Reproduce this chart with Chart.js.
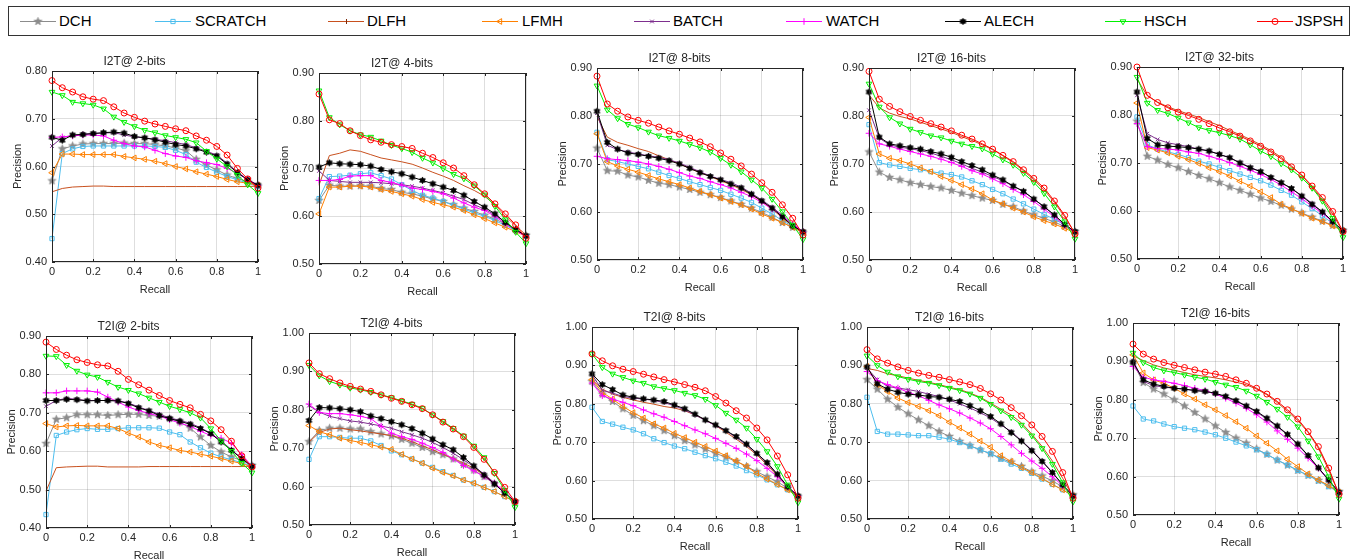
<!DOCTYPE html>
<html><head><meta charset="utf-8">
<script src="https://cdn.jsdelivr.net/npm/chart.js@4.4.1/dist/chart.umd.min.js"></script>
<style>
html,body{margin:0;padding:0;background:#fff;width:1354px;height:559px;overflow:hidden;position:relative;font-family:"Liberation Sans",Arial,sans-serif;}
canvas.panel{position:absolute;}
#legend{position:absolute;left:8px;top:6px;width:1342px;height:30px;border:1px solid #333;box-sizing:border-box;background:#fff;}
.lt{position:absolute;top:0;font-size:15px;color:#000;line-height:28px;white-space:nowrap;}
.lc{position:absolute;top:0;}
</style></head><body>
<div id="legend"></div>
<script>
// ---------- data ----------
const recall = [0,0.05,0.1,0.15,0.2,0.25,0.3,0.35,0.4,0.45,0.5,0.55,0.6,0.65,0.7,0.75,0.8,0.85,0.9,0.95,1];
const seriesNames = ['DCH','SCRATCH','DLFH','LFMH','BATCH','WATCH','ALECH','HSCH','JSPSH'];
const xTickValues = [0,0.2,0.4,0.6,0.8,1];
const xTickLabels = ['0','0.2','0.4','0.6','0.8','1'];
const yTicks_40_80 = [0.4,0.5,0.6,0.7,0.8];
const yTicks_50_90 = [0.5,0.6,0.7,0.8,0.9];
const yTicks_40_90 = [0.4,0.5,0.6,0.7,0.8,0.9];
const yTicks_50_100 = [0.5,0.6,0.7,0.8,0.9,1.0];
const panelTitles = ['I2T@ 2-bits','I2T@ 4-bits','I2T@ 8-bits','I2T@ 16-bits','I2T@ 32-bits','T2I@ 2-bits','T2I@ 4-bits','T2I@ 8-bits','T2I@ 16-bits','T2I@ 16-bits'];

// I2T 2-bits
const i2t2_DCH = [0.570,0.637,0.643,0.647,0.648,0.648,0.648,0.649,0.648,0.648,0.646,0.643,0.639,0.633,0.615,0.603,0.593,0.582,0.575,0.568,0.559];
const i2t2_SCRATCH = [0.449,0.627,0.637,0.642,0.643,0.643,0.643,0.643,0.643,0.643,0.642,0.640,0.634,0.625,0.609,0.598,0.588,0.579,0.572,0.565,0.558];
const i2t2_DLFH = [0.547,0.554,0.557,0.558,0.559,0.559,0.558,0.558,0.558,0.558,0.558,0.558,0.558,0.558,0.558,0.558,0.558,0.558,0.558,0.558,0.559];
const i2t2_LFMH = [0.587,0.626,0.626,0.625,0.625,0.625,0.625,0.621,0.618,0.615,0.611,0.606,0.600,0.595,0.589,0.584,0.579,0.573,0.568,0.565,0.561];
const i2t2_BATCH = [0.643,0.661,0.665,0.668,0.669,0.670,0.671,0.666,0.662,0.660,0.657,0.654,0.650,0.646,0.639,0.632,0.624,0.607,0.589,0.572,0.559];
const i2t2_WATCH = [0.661,0.662,0.664,0.666,0.666,0.664,0.655,0.648,0.643,0.641,0.634,0.627,0.622,0.619,0.612,0.608,0.604,0.596,0.586,0.573,0.561];
const i2t2_ALECH = [0.661,0.655,0.666,0.667,0.669,0.671,0.672,0.670,0.663,0.660,0.656,0.651,0.646,0.643,0.637,0.630,0.622,0.605,0.587,0.572,0.561];
const i2t2_HSCH = [0.756,0.749,0.735,0.732,0.729,0.721,0.704,0.693,0.684,0.676,0.671,0.665,0.661,0.657,0.650,0.632,0.616,0.600,0.582,0.562,0.544];
const i2t2_JSPSH = [0.780,0.765,0.756,0.746,0.741,0.738,0.725,0.712,0.703,0.695,0.689,0.684,0.679,0.675,0.664,0.655,0.642,0.624,0.596,0.574,0.555];

// I2T 4-bits
const i2t4_DCH = [0.633,0.665,0.663,0.663,0.664,0.663,0.658,0.656,0.650,0.647,0.642,0.636,0.631,0.624,0.617,0.610,0.602,0.594,0.584,0.572,0.560];
const i2t4_SCRATCH = [0.637,0.683,0.684,0.686,0.689,0.691,0.685,0.678,0.666,0.654,0.644,0.638,0.631,0.623,0.615,0.607,0.600,0.591,0.581,0.570,0.559];
const i2t4_DLFH = [0.665,0.727,0.732,0.739,0.736,0.729,0.722,0.718,0.714,0.709,0.701,0.692,0.684,0.675,0.664,0.654,0.642,0.624,0.600,0.580,0.561];
const i2t4_LFMH = [0.605,0.661,0.661,0.663,0.663,0.661,0.656,0.652,0.647,0.642,0.635,0.629,0.624,0.619,0.612,0.603,0.595,0.586,0.577,0.568,0.558];
const i2t4_BATCH = [0.695,0.675,0.673,0.671,0.671,0.671,0.670,0.668,0.666,0.663,0.659,0.654,0.649,0.642,0.635,0.624,0.615,0.603,0.587,0.572,0.559];
const i2t4_WATCH = [0.675,0.675,0.677,0.684,0.685,0.685,0.675,0.671,0.665,0.659,0.656,0.652,0.647,0.638,0.628,0.619,0.612,0.600,0.584,0.570,0.558];
const i2t4_ALECH = [0.703,0.712,0.710,0.709,0.708,0.705,0.698,0.693,0.689,0.682,0.675,0.668,0.661,0.654,0.644,0.631,0.619,0.605,0.587,0.572,0.559];
const i2t4_HSCH = [0.863,0.807,0.792,0.779,0.771,0.766,0.758,0.749,0.742,0.734,0.722,0.712,0.700,0.688,0.679,0.664,0.645,0.621,0.593,0.567,0.543];
const i2t4_JSPSH = [0.856,0.802,0.794,0.779,0.769,0.760,0.755,0.750,0.746,0.742,0.732,0.723,0.712,0.701,0.685,0.666,0.647,0.626,0.605,0.582,0.554];

// I2T 8-bits
const i2t8_DCH = [0.733,0.686,0.685,0.677,0.673,0.666,0.660,0.657,0.652,0.647,0.641,0.636,0.630,0.623,0.616,0.608,0.599,0.589,0.578,0.568,0.557];
const i2t8_SCRATCH = [0.766,0.709,0.705,0.700,0.695,0.690,0.683,0.676,0.670,0.663,0.657,0.651,0.645,0.637,0.629,0.620,0.608,0.596,0.582,0.570,0.557];
const i2t8_DLFH = [0.799,0.756,0.745,0.739,0.732,0.726,0.717,0.709,0.700,0.691,0.682,0.674,0.665,0.657,0.647,0.636,0.622,0.606,0.588,0.570,0.559];
const i2t8_LFMH = [0.763,0.705,0.696,0.689,0.683,0.676,0.669,0.663,0.657,0.650,0.643,0.636,0.629,0.622,0.615,0.606,0.596,0.587,0.578,0.568,0.557];
const i2t8_BATCH = [0.806,0.739,0.730,0.725,0.721,0.717,0.714,0.709,0.702,0.693,0.684,0.675,0.668,0.661,0.652,0.639,0.625,0.610,0.593,0.573,0.559];
const i2t8_WATCH = [0.716,0.711,0.709,0.707,0.704,0.700,0.695,0.689,0.682,0.675,0.670,0.663,0.657,0.650,0.641,0.632,0.620,0.606,0.592,0.575,0.559];
const i2t8_ALECH = [0.810,0.745,0.731,0.723,0.720,0.716,0.712,0.707,0.700,0.691,0.682,0.674,0.667,0.658,0.650,0.637,0.623,0.608,0.590,0.571,0.559];
const i2t8_HSCH = [0.863,0.813,0.795,0.783,0.776,0.767,0.759,0.754,0.748,0.741,0.734,0.725,0.712,0.698,0.684,0.667,0.650,0.627,0.601,0.573,0.543];
const i2t8_JSPSH = [0.883,0.825,0.810,0.798,0.791,0.785,0.777,0.769,0.762,0.754,0.746,0.736,0.723,0.710,0.696,0.679,0.661,0.641,0.615,0.587,0.552];

// I2T 16-bits
const i2t16_DCH = [0.725,0.683,0.672,0.667,0.661,0.657,0.653,0.650,0.645,0.639,0.634,0.629,0.624,0.616,0.611,0.602,0.594,0.587,0.579,0.570,0.559];
const i2t16_SCRATCH = [0.782,0.703,0.698,0.695,0.691,0.688,0.684,0.681,0.678,0.673,0.665,0.657,0.647,0.638,0.627,0.617,0.606,0.595,0.585,0.573,0.559];
const i2t16_DLFH = [0.844,0.817,0.806,0.799,0.794,0.787,0.780,0.773,0.766,0.757,0.749,0.740,0.730,0.717,0.703,0.686,0.667,0.646,0.620,0.590,0.556];
const i2t16_LFMH = [0.797,0.721,0.712,0.707,0.700,0.692,0.684,0.674,0.666,0.657,0.648,0.638,0.625,0.617,0.608,0.600,0.590,0.582,0.575,0.566,0.557];
const i2t16_BATCH = [0.812,0.754,0.740,0.735,0.732,0.728,0.723,0.716,0.709,0.700,0.691,0.683,0.674,0.665,0.654,0.643,0.627,0.611,0.593,0.574,0.559];
const i2t16_WATCH = [0.764,0.742,0.737,0.731,0.726,0.721,0.716,0.710,0.703,0.695,0.686,0.679,0.669,0.659,0.647,0.636,0.622,0.606,0.590,0.572,0.558];
const i2t16_ALECH = [0.850,0.756,0.742,0.738,0.734,0.731,0.726,0.721,0.714,0.705,0.697,0.688,0.677,0.667,0.654,0.643,0.627,0.611,0.594,0.574,0.559];
const i2t16_HSCH = [0.867,0.819,0.797,0.784,0.773,0.766,0.759,0.755,0.748,0.742,0.737,0.732,0.721,0.709,0.698,0.681,0.662,0.639,0.611,0.580,0.544];
const i2t16_JSPSH = [0.893,0.835,0.820,0.809,0.799,0.791,0.784,0.777,0.769,0.760,0.752,0.742,0.731,0.718,0.705,0.688,0.670,0.650,0.623,0.593,0.554];

// I2T 32-bits
const i2t32_DCH = [0.787,0.714,0.706,0.697,0.690,0.682,0.674,0.667,0.659,0.650,0.643,0.635,0.627,0.620,0.612,0.604,0.596,0.587,0.579,0.570,0.559];
const i2t32_SCRATCH = [0.796,0.738,0.729,0.723,0.718,0.711,0.704,0.698,0.691,0.684,0.677,0.670,0.663,0.654,0.643,0.633,0.619,0.605,0.590,0.574,0.557];
const i2t32_DLFH = [0.875,0.840,0.827,0.817,0.809,0.802,0.795,0.786,0.778,0.768,0.759,0.749,0.738,0.726,0.712,0.694,0.674,0.650,0.624,0.594,0.556];
const i2t32_LFMH = [0.825,0.732,0.727,0.721,0.714,0.707,0.699,0.690,0.682,0.673,0.662,0.652,0.640,0.628,0.614,0.605,0.595,0.585,0.578,0.569,0.559];
const i2t32_BATCH = [0.841,0.761,0.749,0.742,0.738,0.734,0.729,0.725,0.718,0.711,0.701,0.691,0.682,0.670,0.659,0.647,0.632,0.616,0.598,0.578,0.559];
const i2t32_WATCH = [0.782,0.734,0.730,0.729,0.727,0.723,0.720,0.714,0.708,0.701,0.693,0.685,0.676,0.666,0.654,0.640,0.626,0.610,0.595,0.578,0.559];
const i2t32_ALECH = [0.848,0.751,0.738,0.735,0.734,0.732,0.729,0.725,0.718,0.711,0.700,0.690,0.682,0.670,0.659,0.647,0.631,0.614,0.598,0.578,0.559];
const i2t32_HSCH = [0.879,0.825,0.810,0.803,0.794,0.784,0.774,0.768,0.763,0.757,0.750,0.738,0.725,0.714,0.699,0.686,0.669,0.648,0.621,0.585,0.545];
const i2t32_JSPSH = [0.900,0.841,0.826,0.815,0.806,0.799,0.791,0.782,0.773,0.765,0.756,0.746,0.735,0.723,0.709,0.692,0.675,0.652,0.628,0.599,0.557];

// T2I 2-bits
const t2i2_DCH = [0.620,0.683,0.687,0.695,0.695,0.695,0.693,0.695,0.696,0.696,0.693,0.691,0.685,0.676,0.660,0.637,0.615,0.598,0.585,0.576,0.563];
const t2i2_SCRATCH = [0.435,0.641,0.650,0.656,0.659,0.657,0.657,0.659,0.661,0.661,0.661,0.660,0.650,0.643,0.624,0.609,0.595,0.585,0.578,0.570,0.561];
const t2i2_DLFH = [0.496,0.557,0.559,0.560,0.561,0.561,0.559,0.559,0.559,0.559,0.560,0.560,0.560,0.560,0.560,0.560,0.560,0.560,0.560,0.560,0.561];
const t2i2_LFMH = [0.672,0.663,0.666,0.667,0.666,0.666,0.666,0.659,0.647,0.637,0.624,0.615,0.609,0.602,0.598,0.592,0.587,0.581,0.574,0.568,0.559];
const t2i2_BATCH = [0.717,0.732,0.738,0.735,0.732,0.732,0.732,0.731,0.726,0.715,0.706,0.696,0.687,0.680,0.673,0.661,0.647,0.627,0.604,0.581,0.561];
const t2i2_WATCH = [0.752,0.752,0.757,0.757,0.757,0.754,0.741,0.728,0.715,0.706,0.698,0.692,0.682,0.673,0.665,0.652,0.641,0.634,0.621,0.591,0.561];
const t2i2_ALECH = [0.732,0.732,0.735,0.734,0.731,0.732,0.732,0.731,0.724,0.713,0.705,0.693,0.685,0.678,0.670,0.659,0.646,0.624,0.602,0.581,0.561];
const t2i2_HSCH = [0.848,0.847,0.824,0.809,0.799,0.793,0.780,0.767,0.759,0.750,0.739,0.728,0.717,0.709,0.700,0.687,0.659,0.627,0.600,0.569,0.544];
const t2i2_JSPSH = [0.884,0.865,0.850,0.838,0.831,0.825,0.822,0.808,0.787,0.773,0.759,0.745,0.732,0.722,0.713,0.696,0.679,0.656,0.626,0.588,0.559];

// T2I 4-bits
const t2i4_DCH = [0.717,0.746,0.752,0.752,0.750,0.750,0.743,0.737,0.732,0.723,0.713,0.702,0.691,0.683,0.672,0.658,0.643,0.626,0.607,0.584,0.561];
const t2i4_SCRATCH = [0.671,0.730,0.730,0.728,0.726,0.726,0.719,0.707,0.693,0.683,0.672,0.661,0.650,0.639,0.629,0.617,0.609,0.598,0.587,0.574,0.561];
const t2i4_DLFH = [0.716,0.741,0.750,0.752,0.748,0.745,0.741,0.737,0.733,0.726,0.717,0.706,0.696,0.684,0.674,0.661,0.648,0.630,0.609,0.585,0.561];
const t2i4_LFMH = [0.759,0.743,0.735,0.726,0.720,0.715,0.709,0.703,0.697,0.684,0.672,0.661,0.648,0.637,0.628,0.617,0.609,0.598,0.587,0.574,0.561];
const t2i4_BATCH = [0.811,0.794,0.783,0.777,0.771,0.768,0.763,0.758,0.752,0.743,0.735,0.726,0.715,0.702,0.687,0.670,0.652,0.633,0.610,0.585,0.561];
const t2i4_WATCH = [0.815,0.793,0.790,0.790,0.787,0.783,0.777,0.757,0.739,0.730,0.723,0.713,0.702,0.689,0.672,0.655,0.641,0.626,0.609,0.587,0.561];
const t2i4_ALECH = [0.772,0.806,0.805,0.803,0.800,0.795,0.784,0.777,0.769,0.761,0.751,0.739,0.724,0.709,0.696,0.676,0.654,0.630,0.607,0.583,0.561];
const t2i4_HSCH = [0.916,0.889,0.874,0.865,0.857,0.852,0.846,0.839,0.832,0.823,0.815,0.804,0.787,0.770,0.752,0.732,0.706,0.676,0.635,0.591,0.546];
const t2i4_JSPSH = [0.922,0.894,0.881,0.870,0.861,0.854,0.848,0.839,0.830,0.822,0.813,0.803,0.787,0.768,0.750,0.730,0.702,0.671,0.637,0.598,0.561];

// T2I 8-bits
const t2i8_DCH = [0.858,0.825,0.806,0.787,0.770,0.756,0.743,0.730,0.717,0.704,0.693,0.682,0.671,0.661,0.650,0.637,0.623,0.610,0.597,0.580,0.558];
const t2i8_SCRATCH = [0.791,0.754,0.747,0.739,0.732,0.722,0.709,0.699,0.690,0.683,0.674,0.665,0.657,0.648,0.638,0.626,0.615,0.602,0.589,0.576,0.558];
const t2i8_DLFH = [0.863,0.838,0.825,0.817,0.810,0.804,0.799,0.793,0.789,0.782,0.771,0.758,0.743,0.726,0.708,0.689,0.667,0.641,0.612,0.582,0.558];
const t2i8_LFMH = [0.863,0.830,0.812,0.793,0.777,0.763,0.748,0.737,0.723,0.712,0.700,0.689,0.677,0.665,0.651,0.637,0.619,0.604,0.590,0.576,0.558];
const t2i8_BATCH = [0.876,0.835,0.828,0.819,0.815,0.812,0.809,0.803,0.795,0.784,0.771,0.757,0.743,0.730,0.712,0.693,0.670,0.645,0.615,0.584,0.560];
const t2i8_WATCH = [0.854,0.821,0.812,0.804,0.795,0.784,0.774,0.765,0.754,0.743,0.732,0.722,0.710,0.697,0.684,0.669,0.652,0.632,0.610,0.584,0.560];
const t2i8_ALECH = [0.878,0.850,0.837,0.823,0.817,0.813,0.810,0.806,0.797,0.787,0.773,0.758,0.745,0.730,0.715,0.695,0.671,0.647,0.617,0.584,0.560];
const t2i8_HSCH = [0.930,0.895,0.878,0.869,0.860,0.854,0.845,0.840,0.835,0.828,0.822,0.812,0.796,0.776,0.758,0.737,0.708,0.676,0.637,0.589,0.543];
const t2i8_JSPSH = [0.930,0.912,0.899,0.890,0.884,0.877,0.870,0.863,0.857,0.850,0.843,0.834,0.819,0.802,0.782,0.763,0.737,0.706,0.664,0.615,0.554];

// T2I 16-bits (left)
const t2i16a_DCH = [0.863,0.838,0.812,0.791,0.774,0.758,0.743,0.728,0.715,0.702,0.691,0.680,0.670,0.658,0.648,0.637,0.623,0.612,0.599,0.584,0.563];
const t2i16a_SCRATCH = [0.817,0.728,0.721,0.721,0.719,0.717,0.717,0.713,0.708,0.699,0.690,0.680,0.670,0.656,0.643,0.632,0.619,0.604,0.590,0.576,0.560];
const t2i16a_DLFH = [0.892,0.887,0.878,0.873,0.867,0.861,0.856,0.850,0.843,0.837,0.828,0.817,0.802,0.786,0.771,0.750,0.721,0.689,0.651,0.606,0.557];
const t2i16a_LFMH = [0.897,0.850,0.832,0.815,0.803,0.793,0.782,0.769,0.752,0.737,0.721,0.703,0.687,0.665,0.650,0.634,0.621,0.606,0.590,0.576,0.560];
const t2i16a_BATCH = [0.893,0.863,0.845,0.841,0.837,0.832,0.825,0.819,0.810,0.800,0.789,0.777,0.763,0.745,0.728,0.704,0.680,0.651,0.621,0.589,0.560];
const t2i16a_WATCH = [0.884,0.860,0.850,0.841,0.830,0.821,0.809,0.797,0.787,0.776,0.763,0.750,0.735,0.715,0.693,0.671,0.651,0.632,0.610,0.587,0.560];
const t2i16a_ALECH = [0.896,0.852,0.838,0.830,0.825,0.823,0.819,0.817,0.812,0.806,0.795,0.782,0.767,0.748,0.725,0.703,0.678,0.650,0.621,0.589,0.560];
const t2i16a_HSCH = [0.925,0.900,0.883,0.871,0.864,0.858,0.854,0.848,0.841,0.835,0.826,0.815,0.799,0.782,0.765,0.745,0.717,0.684,0.643,0.595,0.545];
const t2i16a_JSPSH = [0.941,0.917,0.906,0.896,0.887,0.880,0.874,0.869,0.863,0.857,0.850,0.840,0.826,0.810,0.790,0.769,0.745,0.715,0.676,0.621,0.554];

// T2I 16-bits (right)
const t2i16b_DCH = [0.896,0.845,0.828,0.815,0.800,0.784,0.767,0.750,0.732,0.715,0.700,0.687,0.672,0.658,0.643,0.630,0.616,0.603,0.590,0.576,0.561];
const t2i16b_SCRATCH = [0.784,0.750,0.745,0.737,0.730,0.726,0.722,0.716,0.709,0.700,0.690,0.680,0.670,0.658,0.643,0.630,0.616,0.603,0.589,0.574,0.559];
const t2i16b_DLFH = [0.915,0.902,0.891,0.883,0.877,0.871,0.865,0.861,0.857,0.852,0.846,0.839,0.828,0.813,0.793,0.770,0.746,0.715,0.674,0.617,0.554];
const t2i16b_LFMH = [0.917,0.870,0.852,0.843,0.830,0.815,0.802,0.787,0.774,0.759,0.743,0.726,0.706,0.687,0.667,0.645,0.626,0.607,0.591,0.577,0.559];
const t2i16b_BATCH = [0.902,0.848,0.837,0.833,0.830,0.828,0.824,0.822,0.816,0.807,0.796,0.783,0.768,0.750,0.730,0.709,0.683,0.654,0.622,0.590,0.559];
const t2i16b_WATCH = [0.887,0.859,0.852,0.848,0.843,0.837,0.830,0.824,0.815,0.804,0.791,0.778,0.761,0.742,0.719,0.697,0.674,0.648,0.622,0.591,0.559];
const t2i16b_ALECH = [0.898,0.852,0.841,0.835,0.830,0.828,0.824,0.822,0.817,0.809,0.798,0.784,0.770,0.752,0.732,0.710,0.685,0.655,0.623,0.591,0.559];
const t2i16b_HSCH = [0.922,0.897,0.884,0.876,0.871,0.865,0.859,0.854,0.846,0.839,0.833,0.823,0.810,0.794,0.776,0.755,0.730,0.693,0.652,0.600,0.542];
const t2i16b_JSPSH = [0.945,0.919,0.906,0.897,0.890,0.884,0.878,0.872,0.867,0.861,0.852,0.843,0.830,0.815,0.796,0.774,0.750,0.717,0.678,0.622,0.554];

// ---------- styles & layout ----------
const FONT = "'Liberation Sans', Arial, Helvetica, sans-serif";
const TXT = '#262626';
const seriesColors = ['#8c8c8c','#4DBEEE','#C8501E','#FF8000','#7E2F8E','#FF00FF','#000000','#00F000','#FF0000'];

function starCanvas(n, rOut, rIn, color, size) {
  const c = document.createElement('canvas');
  c.width = size; c.height = size;
  const g = c.getContext('2d');
  g.translate(size / 2, size / 2);
  g.beginPath();
  for (let i = 0; i < 2 * n; i++) {
    const r = i % 2 === 0 ? rOut : rIn;
    const a = -Math.PI / 2 + i * Math.PI / n;
    const px = r * Math.cos(a), py = r * Math.sin(a);
    if (i === 0) g.moveTo(px, py); else g.lineTo(px, py);
  }
  g.closePath();
  g.fillStyle = color; g.fill();
  g.lineWidth = 0.8; g.strokeStyle = color; g.stroke();
  return c;
}
const pentagram = starCanvas(5, 4.1, 1.7, '#8c8c8c', 11);
const hexagram = starCanvas(6, 3.3, 2.0, '#000000', 9);

const seriesMarkers = [
  {ps: pentagram, rot: 0, r: 4},
  {ps: 'rect', rot: 0, r: 3},
  {ps: 'circle', rot: 0, r: 0},
  {ps: 'triangle', rot: 270, r: 3.3},
  {ps: 'crossRot', rot: 0, r: 2.6},
  {ps: 'cross', rot: 0, r: 3.3},
  {ps: hexagram, rot: 0, r: 4},
  {ps: 'triangle', rot: 180, r: 3.3},
  {ps: 'circle', rot: 0, r: 3}
];

const panelRects = [
  [52,71,258,262],[319,73,526,264],[597,68,803,260],[869,68,1075,260],[1137,67,1343,259],
  [46,336,252,528],[309,333,515,525],[592,327,798,519],[867,327,1073,519],[1133,323,1339,515]
];
const panelY = [yTicks_40_80, yTicks_50_90, yTicks_50_90, yTicks_50_90, yTicks_50_90,
                yTicks_40_90, yTicks_50_100, yTicks_50_100, yTicks_50_100, yTicks_50_100];
const panelSeries = [
  [i2t2_DCH,i2t2_SCRATCH,i2t2_DLFH,i2t2_LFMH,i2t2_BATCH,i2t2_WATCH,i2t2_ALECH,i2t2_HSCH,i2t2_JSPSH],
  [i2t4_DCH,i2t4_SCRATCH,i2t4_DLFH,i2t4_LFMH,i2t4_BATCH,i2t4_WATCH,i2t4_ALECH,i2t4_HSCH,i2t4_JSPSH],
  [i2t8_DCH,i2t8_SCRATCH,i2t8_DLFH,i2t8_LFMH,i2t8_BATCH,i2t8_WATCH,i2t8_ALECH,i2t8_HSCH,i2t8_JSPSH],
  [i2t16_DCH,i2t16_SCRATCH,i2t16_DLFH,i2t16_LFMH,i2t16_BATCH,i2t16_WATCH,i2t16_ALECH,i2t16_HSCH,i2t16_JSPSH],
  [i2t32_DCH,i2t32_SCRATCH,i2t32_DLFH,i2t32_LFMH,i2t32_BATCH,i2t32_WATCH,i2t32_ALECH,i2t32_HSCH,i2t32_JSPSH],
  [t2i2_DCH,t2i2_SCRATCH,t2i2_DLFH,t2i2_LFMH,t2i2_BATCH,t2i2_WATCH,t2i2_ALECH,t2i2_HSCH,t2i2_JSPSH],
  [t2i4_DCH,t2i4_SCRATCH,t2i4_DLFH,t2i4_LFMH,t2i4_BATCH,t2i4_WATCH,t2i4_ALECH,t2i4_HSCH,t2i4_JSPSH],
  [t2i8_DCH,t2i8_SCRATCH,t2i8_DLFH,t2i8_LFMH,t2i8_BATCH,t2i8_WATCH,t2i8_ALECH,t2i8_HSCH,t2i8_JSPSH],
  [t2i16a_DCH,t2i16a_SCRATCH,t2i16a_DLFH,t2i16a_LFMH,t2i16a_BATCH,t2i16a_WATCH,t2i16a_ALECH,t2i16a_HSCH,t2i16a_JSPSH],
  [t2i16b_DCH,t2i16b_SCRATCH,t2i16b_DLFH,t2i16b_LFMH,t2i16b_BATCH,t2i16b_WATCH,t2i16b_ALECH,t2i16b_HSCH,t2i16b_JSPSH]
];

const Y_W = 41, X_H = 34, TITLE_H = 16, PAD_R = 12;

const boxPlugin = {
  id: 'matlabBox',
  afterDraw(chart) {
    const {ctx, chartArea: a, scales} = chart;
    ctx.save();
    ctx.strokeStyle = TXT; ctx.lineWidth = 1;
    ctx.beginPath();
    scales.x.ticks.forEach(t => {
      const px = Math.round(scales.x.getPixelForValue(t.value)) + 0.5;
      ctx.moveTo(px, a.bottom); ctx.lineTo(px, a.bottom - 3);
      ctx.moveTo(px, a.top); ctx.lineTo(px, a.top + 3);
    });
    scales.y.ticks.forEach(t => {
      const py = Math.round(scales.y.getPixelForValue(t.value)) + 0.5;
      ctx.moveTo(a.left, py); ctx.lineTo(a.left + 3, py);
      ctx.moveTo(a.right, py); ctx.lineTo(a.right - 3, py);
    });
    ctx.stroke();
    ctx.strokeRect(Math.round(a.left) + 0.5, Math.round(a.top) + 0.5, Math.round(a.right - a.left) - 1, Math.round(a.bottom - a.top) - 1);
    ctx.restore();
  }
};

panelRects.forEach((rect, p) => {
  const [L, T, R, B] = rect;
  const cv = document.createElement('canvas');
  cv.className = 'panel';
  const w = Y_W + (R - L) + PAD_R, h = TITLE_H + (B - T) + X_H;
  cv.width = w; cv.height = h;
  cv.style.left = (L - Y_W) + 'px';
  cv.style.top = (T - TITLE_H) + 'px';
  cv.style.width = w + 'px'; cv.style.height = h + 'px';
  document.body.appendChild(cv);
  const yt = panelY[p];
  const datasets = seriesNames.map((name, k) => ({
    label: name,
    data: recall.map((r, i) => ({x: r, y: panelSeries[p][k][i]})),
    borderColor: seriesColors[k],
    backgroundColor: 'rgba(0,0,0,0)',
    borderWidth: 1,
    pointStyle: seriesMarkers[k].ps,
    pointRotation: seriesMarkers[k].rot,
    pointRadius: seriesMarkers[k].r,
    pointBorderWidth: 1,
    pointBorderColor: seriesColors[k],
    pointBackgroundColor: 'rgba(0,0,0,0)',
    tension: 0, fill: false, clip: false,
    order: seriesNames.length - 1 - k
  }));
  new Chart(cv, {
    type: 'line',
    data: {datasets},
    plugins: [boxPlugin],
    options: {
      responsive: false, animation: false, events: [], devicePixelRatio: 1,
      layout: {padding: {left: 0, top: 0, right: PAD_R, bottom: 0}},
      plugins: {
        legend: {display: false}, tooltip: {enabled: false},
        title: {display: true, text: panelTitles[p], color: TXT,
          font: {family: FONT, size: 12, weight: 'normal', lineHeight: '14px'},
          padding: {top: 0, bottom: 2}}
      },
      scales: {
        x: {
          type: 'linear', min: 0, max: 1,
          afterBuildTicks: s => { s.ticks = xTickValues.map(v => ({value: v})); },
          afterFit: s => { s.height = X_H; },
          ticks: {callback: (v, i) => xTickLabels[i], color: TXT, font: {family: FONT, size: 11}, padding: 3, maxRotation: 0, autoSkip: false},
          grid: {color: 'rgba(0,0,0,0.13)', drawTicks: false, lineWidth: 1},
          border: {display: false},
          title: {display: true, text: 'Recall', color: TXT, font: {family: FONT, size: 11, lineHeight: '13px'}, padding: 0}
        },
        y: {
          type: 'linear', min: yt[0], max: yt[yt.length - 1],
          afterBuildTicks: s => { s.ticks = yt.map(v => ({value: v})); },
          afterFit: s => { s.width = Y_W; },
          ticks: {callback: (v, i) => yt[i].toFixed(2), color: TXT, font: {family: FONT, size: 11}, padding: 5, autoSkip: false},
          grid: {color: 'rgba(0,0,0,0.13)', drawTicks: false, lineWidth: 1},
          border: {display: false},
          title: {display: true, text: 'Precision', color: TXT, font: {family: FONT, size: 11, lineHeight: '13px'}, padding: 0}
        }
      }
    }
  });
});

// ---------- legend ----------
const legendLineX = [20,155,328,482,634,786,945,1105,1257];
const legendTextX = [59,195,367,522,673,826,984,1144,1295];
const legendEl = document.getElementById('legend');
seriesNames.forEach((name, k) => {
  const c = document.createElement('canvas');
  c.className = 'lc';
  c.width = 36; c.height = 28;
  c.style.left = (legendLineX[k] - 9) + 'px';
  legendEl.appendChild(c);
  const g = c.getContext('2d');
  g.strokeStyle = seriesColors[k]; g.lineWidth = 1;
  g.beginPath(); g.moveTo(0, 14.5); g.lineTo(36, 14.5); g.stroke();
  const m = seriesMarkers[k];
  if (k === 2) {
    g.strokeStyle = '#7a2a0a';
    g.beginPath(); g.moveTo(18.5, 12); g.lineTo(18.5, 17); g.stroke();
  } else if (typeof m.ps === 'object') {
    g.drawImage(m.ps, 18 - m.ps.width / 2, 14.5 - m.ps.height / 2);
  } else {
    g.fillStyle = 'rgba(0,0,0,0)';
    Chart.helpers.drawPoint(g, {pointStyle: m.ps, rotation: m.rot, radius: m.r, borderWidth: 1}, 18, 14.5);
  }
  const t = document.createElement('div');
  t.className = 'lt';
  t.textContent = name;
  t.style.left = (legendTextX[k] - 9) + 'px';
  legendEl.appendChild(t);
});
</script></body></html>
